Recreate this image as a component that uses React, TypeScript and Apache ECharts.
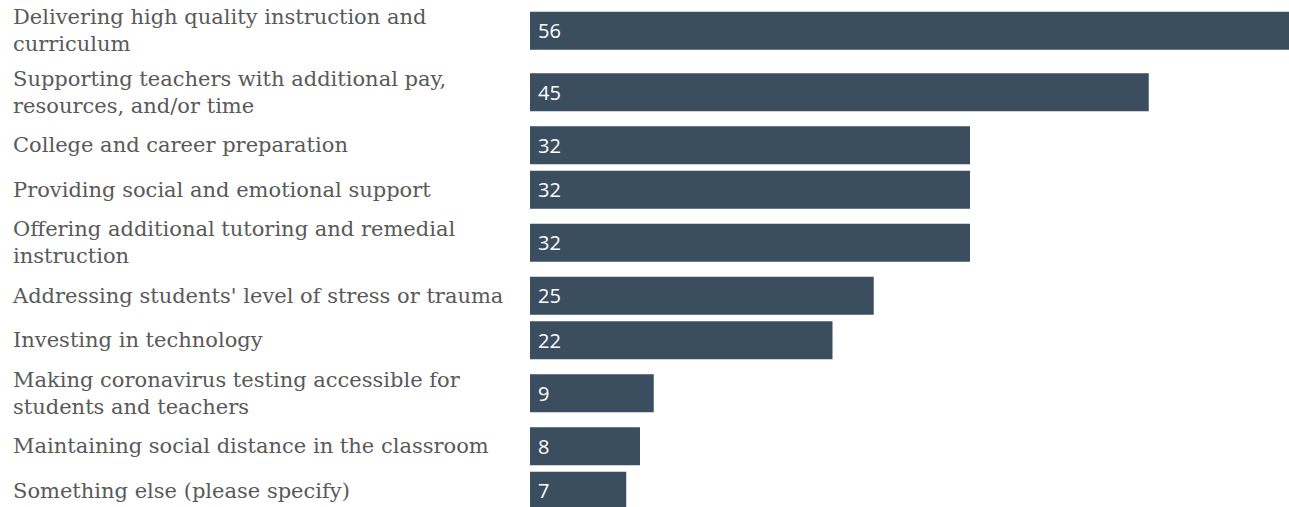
import React, { useEffect, useRef } from "react";
import * as echarts from "echarts";

const categories: string[] = [
  "Delivering high quality instruction and\ncurriculum",
  "Supporting teachers with additional pay,\nresources, and/or time",
  "College and career preparation",
  "Providing social and emotional support",
  "Offering additional tutoring and remedial\ninstruction",
  "Addressing students' level of stress or trauma",
  "Investing in technology",
  "Making coronavirus testing accessible for\nstudents and teachers",
  "Maintaining social distance in the classroom",
  "Something else (please specify)",
];

const values: number[] = [56, 45, 32, 32, 32, 25, 22, 9, 8, 7];

// layout: row height depends on the number of label lines
const SINGLE_ROW = 44.5;
const DOUBLE_ROW = 61.5;
const CHART_H = 507;

function rowLayout() {
  const centers: number[] = [];
  let acc = 0;
  for (const c of categories) {
    const h = c.split("\n").length > 1 ? DOUBLE_ROW : SINGLE_ROW;
    centers.push(acc + h / 2);
    acc += h;
  }
  return { centers, total: acc };
}

export default function App() {
  const ref = useRef<HTMLDivElement>(null);
  useEffect(() => {
    if (!ref.current) return;
    const chart = echarts.init(ref.current, null, { renderer: "svg" });
    const { centers } = rowLayout();
    const data = values.map((v, i) => [v, centers[i]]);
    chart.setOption({
      animation: false,
      grid: { left: 530, right: 0, top: 0, bottom: 0, containLabel: false },
      xAxis: {
        type: "value",
        min: 0,
        max: 55.2,
        show: false,
      },
      yAxis: {
        type: "value",
        inverse: true,
        min: 0,
        max: CHART_H,
        axisLine: { show: false },
        axisTick: { show: false },
        splitLine: { show: false },
        axisLabel: {
          customValues: centers,
          showMinLabel: true,
          showMaxLabel: true,
          formatter: (v: number) => {
            const idx = centers.findIndex((c) => Math.abs(c - v) < 0.01);
            return idx >= 0 ? categories[idx] : "";
          },
          align: "left",
          margin: 517,
          color: "#595959",
          fontFamily: "DejaVu Serif",
          fontSize: 21,
          lineHeight: 27,
          verticalAlign: "middle",
        },
      },
      series: [
        {
          type: "custom",
          encode: { x: 0, y: 1 },
          data,
          renderItem: (params: any, api: any) => {
            const v = api.value(0);
            const c = api.value(1);
            const start = api.coord([0, c]);
            const end = api.coord([v, c]);
            const h = 38;
            return {
              type: "group",
              children: [
                {
                  type: "rect",
                  shape: { x: start[0], y: start[1] - h / 2, width: end[0] - start[0], height: h },
                  style: { fill: "#3b4e5f" },
                },
                {
                  type: "text",
                  x: start[0] + 8,
                  y: start[1],
                  style: {
                    text: String(v),
                    fill: "#ffffff",
                    fontFamily: "Open Sans",
                    fontSize: 20,
                    verticalAlign: "middle",
                    align: "left",
                  },
                },
              ],
            };
          },
        },
      ],
    });
    return () => chart.dispose();
  }, []);
  return (
    <div
      ref={ref}
      style={{ position: "absolute", left: 0, top: 0, width: 1289, height: 507, overflow: "hidden", background: "#fff" }}
    />
  );
}
